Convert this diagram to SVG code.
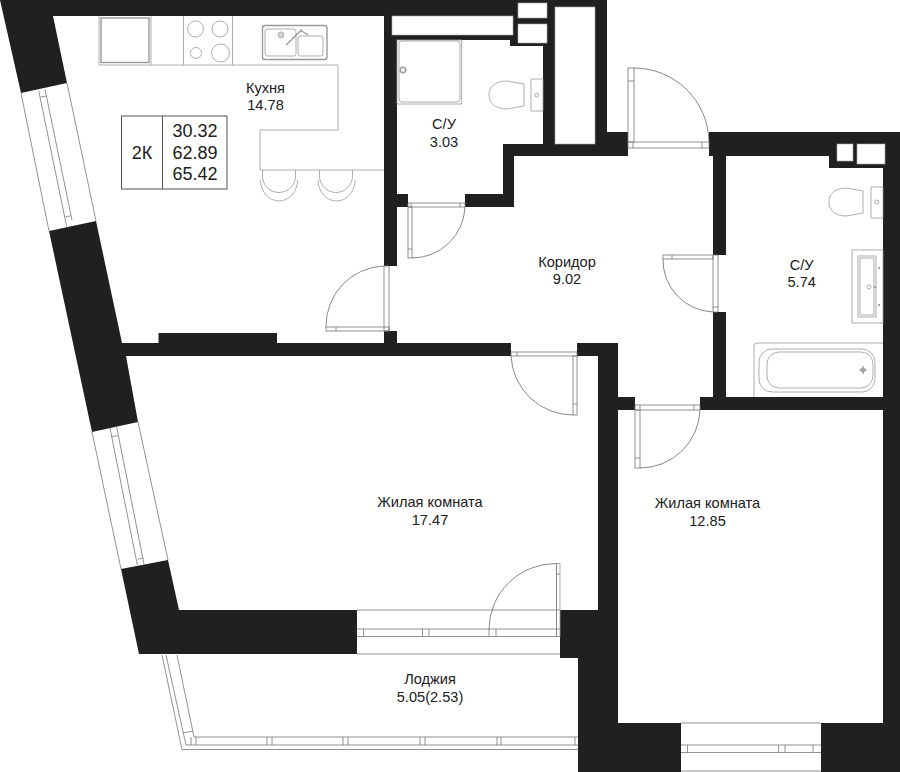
<svg xmlns="http://www.w3.org/2000/svg" width="900" height="772" viewBox="0 0 900 772">
<style>
.w{fill:#202020}
.h{fill:#fff;stroke:#aaa;stroke-width:.6}
.l{fill:none;stroke:#777;stroke-width:.8}
.t{fill:none;stroke:#555;stroke-width:.7}
.f{fill:none;stroke:#999;stroke-width:.8}
.s{fill:none;stroke:#999;stroke-width:1.4}
text{font-family:"Liberation Sans",Arial,sans-serif;font-size:14.6px;fill:#202020;text-anchor:middle}
.b{font-size:18px}
</style>
<rect width="900" height="772" fill="#fff"/>
<g id="walls">
<polygon class="w" points="0,0 607,0 607,132 628,132 628,156 514,156 514,207 465,207 465,194 503,194 503,144 543,144 543,46 510,46 510,40 397,40 397,194 408,194 408,207 397,207 397,266 384,266 384,16 53,16 67,83 21,93"/>
<polygon class="w" points="49,231 96,221 122,343 158.500,343 158.500,333 277,333 277,343 384,343 384,331 397,331 397,343 511,343 511,356 126,356 138,422 92,432"/>
<polygon class="w" points="577,343 618,343 618,397 635,397 635,410 618,410 618,723 681,723 681,772 578,772 578,658 560,658 560,610 598,610 598,356 577,356"/>
<polygon class="w" points="121,569 168,560 179,610 357,610 357,654 139,654"/>
<polygon class="w" points="709,132 900,132 900,772 821,772 821,723 883,723 883,410 700,410 700,397 713,397 713,312 726,312 726,397 883,397 883,168 829,168 829,156 726,156 726,255 713,255 713,156 709,156"/>
<rect class="h" x="518" y="3" width="29" height="15"/>
<rect class="h" x="518" y="24" width="29" height="19"/>
<rect class="h" x="392" y="16" width="121" height="19"/>
<rect class="h" x="555" y="7" width="40" height="137"/>
<rect class="h" x="837" y="144" width="16" height="17"/>
<rect class="h" x="857" y="144" width="28" height="20"/>
</g>
<g id="windows">
<path class="l" d="M21,93 L49,231 M67,83 L96,221 M38.700,90.700 L66.700,226.700 M45,89.300 L72,220 M40.500,97 L46.500,96 M65.300,217 L71,215.800"/>
<path class="l" d="M92,432 L121,569 M138,422 L168,560 M110,428 L137.300,565 M116.700,427 L144,564 M111.700,436.700 L117.700,435.700 M137.700,559.300 L143.300,558"/>
<path class="l" d="M681,723 H821 M681,771 H821 M681,745 H821 M681,752.500 H821 M687.500,745 V752.500 M778.600,745 V752.500 M785,745 V752.500 M813,745 V752.500"/>
<path class="l" d="M162,655 L182,749.500 H578 M166,655 L186,745 H578 M177,655 L194,737 H578 M183,733 L193,731 M191,737 V745 M196,737 V745 M267,737 V745 M272,737 V745 M343,737 V745 M348,737 V745 M420,737 V745 M425,737 V745 M497,737 V745 M501,737 V745 M575,737 V745"/>
</g>
<g id="kitchen">
<path class="f" d="M99,16 V65 H338 V130 H260 V170 H384 M151,16 V65 M183.500,16 V65 M232.500,16 V65"/>
<rect class="s" x="101" y="18" width="48" height="44.500"/>
<circle class="f" cx="195.500" cy="29" r="8"/>
<circle class="f" cx="220" cy="29" r="8"/>
<circle class="f" cx="196" cy="53" r="5.500"/>
<circle class="f" cx="220.500" cy="53" r="9"/>
<rect class="s" x="262.500" y="25.500" width="64.500" height="34" rx="2.500"/>
<rect class="f" x="265" y="29" width="31" height="27" rx="2.500"/>
<rect class="f" x="298" y="36" width="25" height="20" rx="2.500"/>
<path class="s" d="M286,45 L302,29.500 M300,30 L308,35"/>
<circle class="f" cx="281" cy="35" r="3"/>
<circle class="f" cx="281" cy="35" r="1.500"/>
<path class="f" d="M262.500,170 V176 A16.500,16.500 0 0 0 295.500,176 V170 M260.500,180 A18.500,21 0 0 0 297.500,180"/>
<path class="f" d="M319.500,170 V176 A16.500,16.500 0 0 0 352.500,176 V170 M318,180 A18.500,21 0 0 0 355,180"/>
<text x="265.500" y="92.700">Кухня</text>
<text x="265.500" y="110">14.78</text>
</g>
<g id="info-box">
<rect x="121.500" y="116" width="105.500" height="73" fill="#fff" stroke="#555" stroke-width="1"/>
<path d="M162.500,116 V189" stroke="#555" stroke-width="1"/>
<text class="b" x="142" y="158.500">2К</text>
<text class="b" x="195" y="137">30.32</text>
<text class="b" x="195" y="158.500">62.89</text>
<text class="b" x="195" y="180">65.42</text>
</g>
<g id="bath-small">
<rect class="f" x="397" y="40" width="64.700" height="64"/>
<rect class="f" x="399" y="41" width="61" height="61" rx="3"/>
<circle class="s" cx="403" cy="70" r="2.800"/>
<path class="f" d="M531,79 H543 V111 H531 Z M524,84 L507,81 C494,81 489,88 489,95 C489,102 494,109 507,109 L524,106 Z"/>
<circle class="f" cx="536.700" cy="95" r="2"/>
<text x="444" y="129">С/У</text>
<text x="444" y="146.700">3.03</text>
</g>
<g id="bath-large">
<path class="f" d="M871,187 H883 V218 H871 Z M863,191 L846,188 C834,188 829,195 829,202 C829,209 834,216 846,216 L863,213 Z"/>
<circle class="f" cx="876.700" cy="202" r="2"/>
<rect class="f" x="852" y="250" width="31" height="73"/>
<rect class="f" x="858" y="256" width="18" height="61"/>
<rect class="f" x="860" y="258" width="14" height="57"/>
<circle class="f" cx="869" cy="287" r="2"/>
<circle cx="879" cy="268" r="1" fill="#888"/>
<circle cx="879" cy="305" r="1" fill="#888"/>
<circle cx="875" cy="287" r="1" fill="#888"/>
<path class="f" d="M754,397 V346 Q754,343 757,343 H883"/>
<rect class="f" x="759" y="349" width="116" height="43" rx="13"/>
<rect class="f" x="767" y="352" width="106" height="36" rx="12"/>
<circle class="l" cx="863" cy="370" r="2"/>
<path class="l" d="M859,370 H867 M863,366 V374"/>
<text x="801.700" y="270">С/У</text>
<text x="801.700" y="287">5.74</text>
</g>
<g id="door-entrance">
<path class="l" d="M628,142 H709 V148 H628 Z M633,142 V148 M702,142 V148"/>
<rect class="l" x="628" y="68" width="6" height="74"/>
<path class="l" d="M628,81 H634"/>
<path class="t" d="M634,68 A75,75 0 0 1 709,142"/>
</g>
<g id="door-bath-small">
<path class="l" d="M408,203 H465 V207 H408 Z M411,203 V207 M460,203 V207"/>
<rect class="l" x="408" y="207" width="4" height="51"/>
<path class="l" d="M408,249 H412"/>
<path class="t" d="M412,258 A53,53 0 0 0 465,207"/>
</g>
<g id="door-bath-large">
<path class="l" d="M713,255 H718 V312 H713 Z M713,307 H718"/>
<rect class="l" x="663" y="255" width="50" height="4"/>
<path class="l" d="M672,255 V259"/>
<path class="t" d="M663,259 A52,52 0 0 0 713,312"/>
</g>
<g id="door-kitchen">
<path class="l" d="M384,266 H389 V331 H384 Z"/>
<rect class="l" x="326" y="327" width="63" height="4"/>
<path class="l" d="M336,327 V331"/>
<path class="t" d="M326,327 A60,60 0 0 1 384,266"/>
</g>
<g id="door-living">
<path class="l" d="M511,352 H577 V356 H511 Z M517,352 V356"/>
<rect class="l" x="573" y="356" width="4" height="59"/>
<path class="l" d="M573,404 H577"/>
<path class="t" d="M511,356 A62,62 0 0 0 573,415"/>
</g>
<g id="door-bedroom">
<path class="l" d="M635,405 H700 V410 H635 Z M640,405 V410 M694,405 V410"/>
<rect class="l" x="635" y="410" width="5" height="58"/>
<path class="l" d="M635,458 H640"/>
<path class="t" d="M640,468 A60,60 0 0 0 700,410"/>
</g>
<g id="door-balcony">
<path class="l" d="M357,610 H560 M357,654 H560 M357,629 H560 M357,636.500 H560 M363.600,629 V636.500 M422.500,629 V636.500 M429,629 V636.500 M489,629 V636.500 M496,629 V636.500"/>
<rect class="f" x="556.500" y="563.500" width="3.500" height="73"/>
<path class="l" d="M556.500,563.500 V636.500 M556.500,574 H560"/>
<path class="t" d="M489,629 A67,66 0 0 1 556,563.500"/>
</g>
<g id="labels">
<text x="567" y="266.700">Коридор</text>
<text x="567" y="283.700">9.02</text>
<text x="430" y="507">Жилая комната</text>
<text x="430" y="525">17.47</text>
<text x="707.500" y="508">Жилая комната</text>
<text x="707.500" y="526">12.85</text>
<text x="430" y="684">Лоджия</text>
<text x="430" y="702">5.05(2.53)</text>
</g>
</svg>
